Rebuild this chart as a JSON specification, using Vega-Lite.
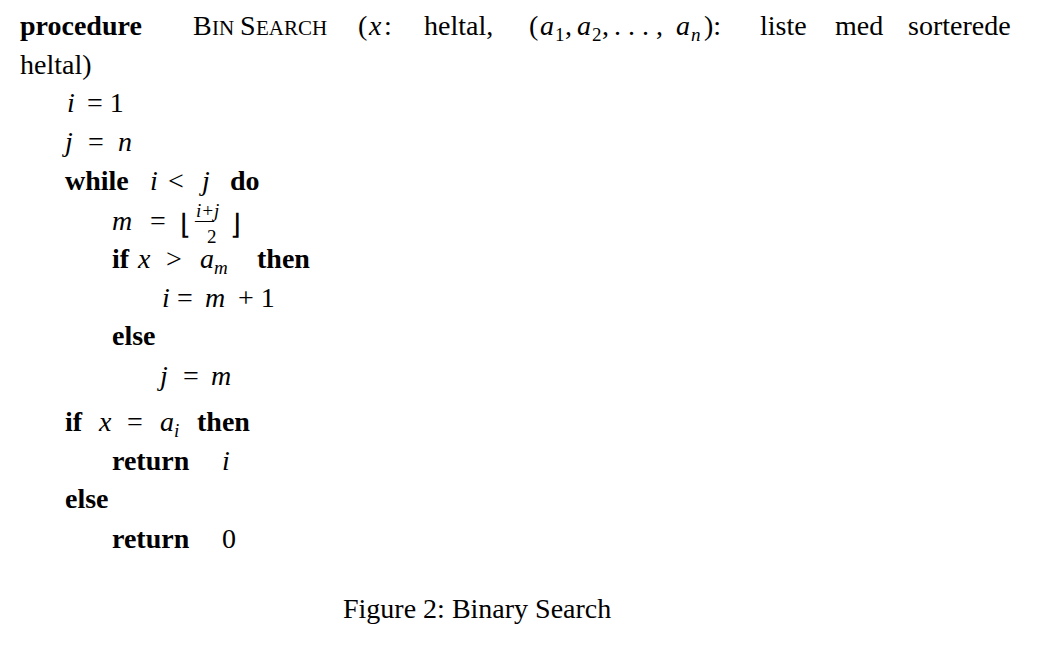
{
  "$schema": "https://vega.github.io/schema/vega-lite/v6.json",
  "autosize": {"type": "fit", "contains": "padding"},
  "width": 1060,
  "height": 660,
  "padding": 0,
  "background": "white",
  "config": {"view": {"stroke": null}},
  "data": {"values": [
    {"t": "procedure", "x": 20, "y": 35, "k": "bold"},
    {"t": "B", "x": 193, "y": 35, "k": "rom"},
    {"t": "IN", "x": 212, "y": 35, "k": "sc"},
    {"t": "S", "x": 240, "y": 35, "k": "rom"},
    {"t": "EARCH", "x": 256, "y": 35, "k": "sc"},
    {"t": "(", "x": 358, "y": 35, "k": "rom"},
    {"t": "x", "x": 369, "y": 35, "k": "it"},
    {"t": ":", "x": 384, "y": 35, "k": "rom"},
    {"t": "heltal,", "x": 424, "y": 35, "k": "rom"},
    {"t": "(", "x": 529, "y": 35, "k": "rom"},
    {"t": "a", "x": 540, "y": 35, "k": "it"},
    {"t": "1", "x": 555, "y": 41, "k": "sub"},
    {"t": ",", "x": 565, "y": 35, "k": "rom"},
    {"t": "a", "x": 577, "y": 35, "k": "it"},
    {"t": "2", "x": 592, "y": 41, "k": "sub"},
    {"t": ",", "x": 602, "y": 35, "k": "rom"},
    {"t": ". . . ,", "x": 614, "y": 35, "k": "rom"},
    {"t": "a", "x": 676, "y": 35, "k": "it"},
    {"t": "n", "x": 691, "y": 41, "k": "subi"},
    {"t": "):", "x": 704, "y": 35, "k": "rom"},
    {"t": "liste", "x": 760, "y": 35, "k": "rom"},
    {"t": "med", "x": 835, "y": 35, "k": "rom"},
    {"t": "sorterede", "x": 908, "y": 35, "k": "rom"},
    {"t": "heltal)", "x": 20, "y": 74, "k": "rom"},
    {"t": "i", "x": 67, "y": 112, "k": "it"},
    {"t": "= 1", "x": 87, "y": 112, "k": "rom"},
    {"t": "j", "x": 65, "y": 151, "k": "it"},
    {"t": "=", "x": 88, "y": 151, "k": "rom"},
    {"t": "n", "x": 118, "y": 151, "k": "it"},
    {"t": "while", "x": 65, "y": 190, "k": "bold"},
    {"t": "i", "x": 150, "y": 190, "k": "it"},
    {"t": "<", "x": 168, "y": 190, "k": "rom"},
    {"t": "j", "x": 202, "y": 190, "k": "it"},
    {"t": "do", "x": 230, "y": 190, "k": "bold"},
    {"t": "m", "x": 112, "y": 230, "k": "it"},
    {"t": "=", "x": 150, "y": 230, "k": "rom"},
    {"t": "⌊", "x": 180, "y": 234, "k": "rom"},
    {"t": "i+j", "x": 196, "y": 217, "k": "subi"},
    {"t": "—", "x": 195, "y": 226, "k": "sub"},
    {"t": "2", "x": 207, "y": 243, "k": "sub"},
    {"t": "⌋", "x": 230, "y": 234, "k": "rom"},
    {"t": "if", "x": 112, "y": 268, "k": "bold"},
    {"t": "x", "x": 138, "y": 268, "k": "it"},
    {"t": ">", "x": 166, "y": 268, "k": "rom"},
    {"t": "a", "x": 200, "y": 268, "k": "it"},
    {"t": "m", "x": 214, "y": 274, "k": "subi"},
    {"t": "then", "x": 257, "y": 268, "k": "bold"},
    {"t": "i", "x": 162, "y": 307, "k": "it"},
    {"t": "=", "x": 177, "y": 307, "k": "rom"},
    {"t": "m", "x": 205, "y": 307, "k": "it"},
    {"t": "+ 1", "x": 238, "y": 307, "k": "rom"},
    {"t": "else", "x": 112, "y": 345, "k": "bold"},
    {"t": "j", "x": 160, "y": 385, "k": "it"},
    {"t": "=", "x": 183, "y": 385, "k": "rom"},
    {"t": "m", "x": 211, "y": 385, "k": "it"},
    {"t": "if", "x": 65, "y": 431, "k": "bold"},
    {"t": "x", "x": 99, "y": 431, "k": "it"},
    {"t": "=", "x": 127, "y": 431, "k": "rom"},
    {"t": "a", "x": 160, "y": 431, "k": "it"},
    {"t": "i", "x": 174, "y": 437, "k": "subi"},
    {"t": "then", "x": 197, "y": 431, "k": "bold"},
    {"t": "return", "x": 112, "y": 470, "k": "bold"},
    {"t": "i", "x": 222, "y": 470, "k": "it"},
    {"t": "else", "x": 65, "y": 508, "k": "bold"},
    {"t": "return", "x": 112, "y": 548, "k": "bold"},
    {"t": "0", "x": 222, "y": 548, "k": "rom"},
    {"t": "Figure 2: Binary Search", "x": 343, "y": 618, "k": "rom"}
  ]},
  "encoding": {
    "x": {"field": "x", "type": "quantitative", "scale": {"domain": [0, 1060], "nice": false, "zero": false}, "axis": null},
    "y": {"field": "y", "type": "quantitative", "scale": {"domain": [660, 0], "nice": false, "zero": false}, "axis": null},
    "text": {"field": "t"}
  },
  "layer": [
    {"transform": [{"filter": "datum.k == 'rom'"}], "mark": {"type": "text", "align": "left", "baseline": "alphabetic", "font": "Liberation Serif", "fontSize": 28, "color": "black"}},
    {"transform": [{"filter": "datum.k == 'sc'"}], "mark": {"type": "text", "align": "left", "baseline": "alphabetic", "font": "Liberation Serif", "fontSize": 21, "color": "black"}},
    {"transform": [{"filter": "datum.k == 'bold'"}], "mark": {"type": "text", "align": "left", "baseline": "alphabetic", "font": "Liberation Serif", "fontSize": 28, "fontWeight": "bold", "color": "black"}},
    {"transform": [{"filter": "datum.k == 'it'"}], "mark": {"type": "text", "align": "left", "baseline": "alphabetic", "font": "Liberation Serif", "fontSize": 28, "fontStyle": "italic", "color": "black"}},
    {"transform": [{"filter": "datum.k == 'sub'"}], "mark": {"type": "text", "align": "left", "baseline": "alphabetic", "font": "Liberation Serif", "fontSize": 19, "color": "black"}},
    {"transform": [{"filter": "datum.k == 'subi'"}], "mark": {"type": "text", "align": "left", "baseline": "alphabetic", "font": "Liberation Serif", "fontSize": 19, "fontStyle": "italic", "color": "black"}}
  ]
}
